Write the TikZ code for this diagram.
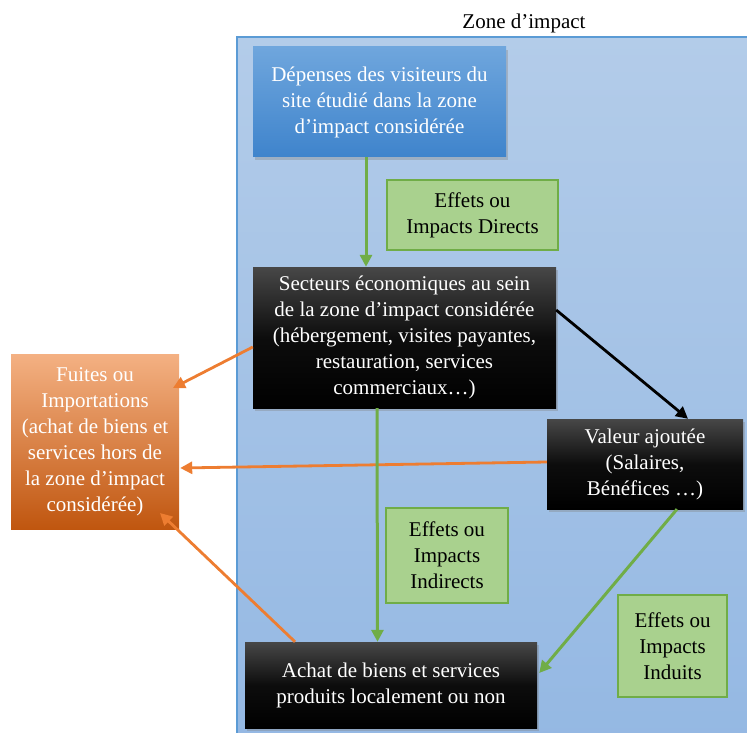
\documentclass[tikz,border=0pt]{standalone}
\usepackage{fontspec}
\setmainfont{Liberation Serif}
\usetikzlibrary{arrows.meta,shadows}
\definecolor{zonetop}{HTML}{B3CCE9}
\definecolor{zonebot}{HTML}{94B8E3}
\definecolor{zoneline}{HTML}{5B9BD5}
\definecolor{bluetop}{HTML}{6FA6DD}
\definecolor{bluebot}{HTML}{3F84CC}
\definecolor{gfill}{HTML}{A9D18E}
\definecolor{gline}{HTML}{70AD47}
\definecolor{otop}{HTML}{F4B183}
\definecolor{omid}{HTML}{E9792E}
\definecolor{obot}{HTML}{C0560F}
\definecolor{oarrow}{HTML}{ED7D31}
\begin{document}
\begin{tikzpicture}[x=1pt,y=-1pt,
  txt/.style={align=center,inner sep=0pt,font=\fontsize{21}{26}\selectfont},
  shadowed/.style={drop shadow={opacity=0.35,shadow xshift=2pt,shadow yshift=-3pt}},
  bluebox/.style={txt,text=white,top color=bluetop,bottom color=bluebot,shadowed},
  darkbox/.style={txt,text=white,top color=black!72,bottom color=black,middle color=black!95,shadowed},
  orangebox/.style={txt,text=white,top color=otop,middle color=omid,bottom color=obot},
  greenlab/.style={txt,text=black,fill=gfill,draw=gline,line width=1.4pt},
  garrow/.style={draw=gline,line width=3pt,-{Triangle[length=12pt,width=12pt]}},
  oarrowst/.style={draw=oarrow,line width=2.8pt,-{Triangle[length=12pt,width=12pt]}},
  barrow/.style={draw=black,line width=2.8pt,-{Triangle[length=12pt,width=12pt]}}
]
\useasboundingbox (0,0) rectangle (747,733);
\fill[top color=zonetop,bottom color=zonebot] (237,37) rectangle (760,745);
\draw[zoneline,line width=1.5pt] (237,745) -- (237,37) -- (760,37);
\node[txt,text=black] (title) at (524,23) {Zone d’impact};

\node[bluebox,minimum width=253pt,minimum height=110pt] (dep) at (379.5,102)
  {Dépenses des visiteurs du\\site étudié dans la zone\\d’impact considérée};
\node[greenlab,minimum width=171pt,minimum height=70pt] (ld) at (472.5,215)
  {Effets ou\\Impacts Directs};
\node[darkbox,minimum width=303pt,minimum height=141pt] (sect) at (404.5,337.5)
  {Secteurs économiques au sein\\de la zone d’impact considérée\\(hébergement, visites payantes,\\restauration, services\\commerciaux…)};
\node[orangebox,minimum width=168pt,minimum height=175pt] (fuite) at (95,441.5)
  {Fuites ou\\Importations\\(achat de biens et\\services hors de\\la zone d’impact\\considérée)};
\node[darkbox,minimum width=196pt,minimum height=90pt] (val) at (645,464)
  {Valeur ajoutée\\(Salaires,\\Bénéfices …)};
\node[greenlab,minimum width=122pt,minimum height=95pt] (li) at (447,555.5)
  {Effets ou\\Impacts\\Indirects};
\node[greenlab,minimum width=109pt,minimum height=102pt] (lu) at (672.5,646)
  {Effets ou\\Impacts\\Induits};
\node[darkbox,minimum width=292pt,minimum height=86pt] (achat) at (391,685)
  {Achat de biens et services\\produits localement ou non};

\draw[garrow] ([shift={(-13.5,0)}]dep.south) -- ([shift={(-38.5,0)}]sect.north);
\draw[barrow] ([shift={(0,-27.5)}]sect.east) -- ([shift={(43,0)}]val.north);
\draw[oarrowst] ([shift={(0,9.5)}]sect.west) -- ([shift={(78,-53.5)}]fuite.center);
\draw[oarrowst] ([shift={(0,-2)}]val.west) -- ([shift={(1,26.5)}]fuite.east);
\draw[oarrowst] ([shift={(-96,0)}]achat.north) -- ([shift={(65,71.5)}]fuite.center);
\draw[garrow] ([shift={(-27.5,0)}]sect.south) -- ([shift={(-13.5,0)}]achat.north);
\draw[garrow] ([shift={(32,0)}]val.south) -- ([shift={(2,-12)}]achat.east);
\end{tikzpicture}
\end{document}
